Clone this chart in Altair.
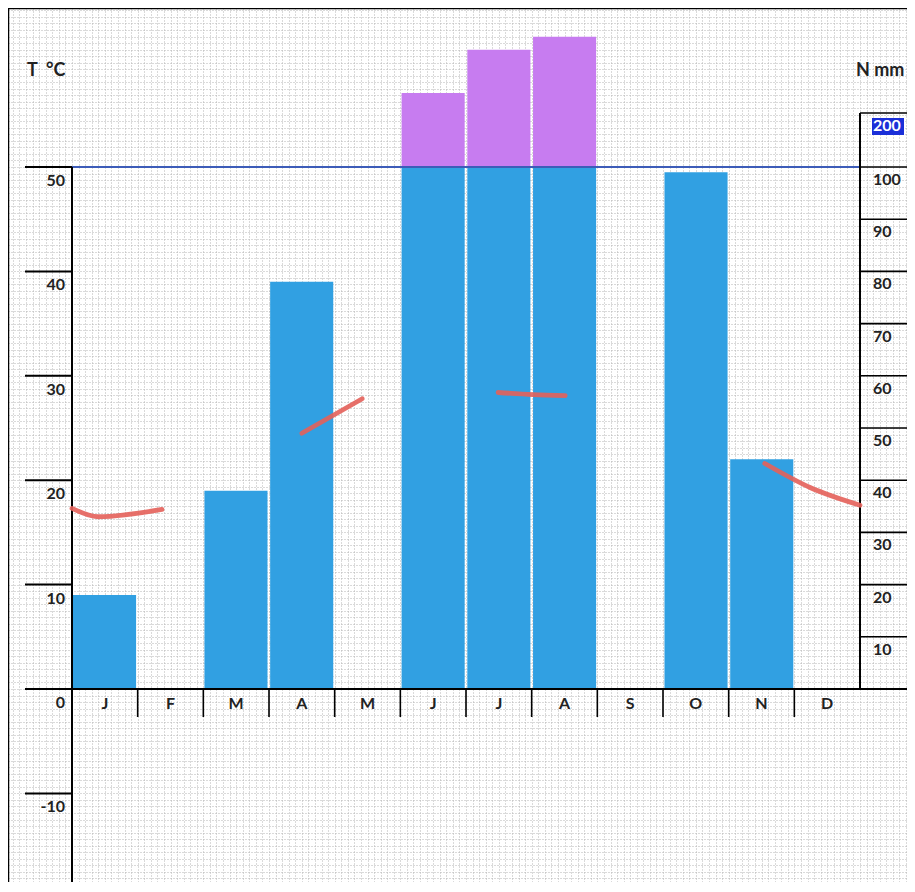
import altair as alt
import pandas as pd

# ---------------- data ----------------
months = ["J", "F", "M", "A", "M", "J", "J", "A", "S", "O", "N", "D"]
precip_mm = [18, 0, 38, 78, 0, 237, 317, 341, 0, 99, 44, 0]

# fragments of the temperature curve: month position, degrees C, fragment id
temp_pos = [0.0, 0.40, 1.37, 3.50, 4.42, 6.49, 7.02, 7.51, 10.55, 11.24, 12.0]
temp_c = [17.3, 16.5, 17.2, 24.5, 27.8, 28.4, 28.2, 28.1, 21.6, 19.3, 17.6]
temp_seg = [1, 1, 1, 2, 2, 3, 3, 3, 4, 4, 4]

temp_ticks = [50, 40, 30, 20, 10, 0, -10]
temp_tick_labels = ["50", "40", "30", "20", "10", "0", "-10"]
precip_ticks = [10, 20, 30, 40, 50, 60, 70, 80, 90, 100]
precip_tick_labels = ["10", "20", "30", "40", "50", "60", "70", "80", "90", "100"]
precip_top = [200]
precip_top_label = ["200"]
month_bounds = [1, 2, 3, 4, 5, 6, 7, 8, 9, 10, 11]
axis_titles = ["T\u00a0\u00a0°C", "N mm"]

# ---------------- layout ----------------
W, H = 899, 874
X0, X1 = 64, 852            # month axis span (pixels)
Y0, Y50, Y200 = 681, 159, 105

FONT = "Lato"
TXT = "#222222"
FS = 16

bars = pd.DataFrame({
    "idx": list(range(12)),
    "p": precip_mm,
})
bars["blue_top"] = bars["p"].clip(upper=100)
over = bars[bars["p"] > 100].copy()
over["base"] = 100

line_df = pd.DataFrame({"pos": temp_pos, "t": temp_c, "seg": temp_seg})
tt_df = pd.DataFrame({"t": temp_ticks, "lab": temp_tick_labels})
pt_df = pd.DataFrame({"p": precip_ticks, "lab": precip_tick_labels})
ptop_df = pd.DataFrame({"p": precip_top, "lab": precip_top_label})
mon_df = pd.DataFrame({"pos": [i + 0.5 for i in range(12)], "lab": months})
mb_df = pd.DataFrame({"pos": month_bounds})

t_scale = alt.Scale(domain=[0, 50], range=[Y0, Y50], zero=False, nice=False)
p_scale = alt.Scale(domain=[0, 100, 200], range=[Y0, Y50, Y200], zero=False, nice=False)
m_scale = alt.Scale(domain=[0, 12], range=[X0, X1], zero=False, nice=False)
b_scale = alt.Scale(domain=list(range(12)), range=[X0, X1], paddingInner=0.04, paddingOuter=0.015)

# ---------------- graph-paper grid ----------------
gx_vals = [round(4.9 + 6.567 * k, 2) for k in range(int((W - 4.9) / 6.567) + 1)]
gy_vals = [round(2.4 + 6.525 * k, 2) for k in range(int((H - 2.4) / 6.525) + 1)]
grid = alt.Chart(pd.DataFrame({"gx": [0], "gy": [0]})).mark_point(opacity=0).encode(
    x=alt.X("gx:Q", scale=alt.Scale(domain=[0, W], nice=False, zero=False),
            axis=alt.Axis(values=gx_vals, grid=True, gridColor="#b5b5b5", gridDash=[1, 2],
                          gridWidth=1, labels=False, ticks=False, domain=False, title=None)),
    y=alt.Y("gy:Q", scale=alt.Scale(domain=[0, H], reverse=True, nice=False, zero=False),
            axis=alt.Axis(values=gy_vals, grid=True, gridColor="#b5b5b5", gridDash=[1, 2],
                          gridWidth=1, labels=False, ticks=False, domain=False, title=None)),
)

# ---------------- precipitation bars ----------------
blue_bars = alt.Chart(bars).mark_bar(color="#31a0e2").encode(
    x=alt.X("idx:O", scale=b_scale, axis=None),
    y=alt.Y("blue_top:Q", scale=p_scale, axis=None),
    y2=alt.datum(0),
)
purple_bars = alt.Chart(over).mark_bar(color="#c77cf0").encode(
    x=alt.X("idx:O", scale=b_scale, axis=None),
    y=alt.Y("p:Q", scale=p_scale, axis=None),
    y2="base:Q",
)

# ---------------- axes drawn as rules ----------------
top_blue = alt.Chart(pd.DataFrame({"t": [50]})).mark_rule(color="#3d5cb8", strokeWidth=2).encode(
    y=alt.Y("t:Q", scale=t_scale, axis=None), x=alt.value(X0), x2=alt.value(X1))

left_ticks = alt.Chart(tt_df).mark_rule(color="black", strokeWidth=2).encode(
    y=alt.Y("t:Q", scale=t_scale, axis=None), x=alt.value(17), x2=alt.value(X0))

zero_line = alt.Chart(pd.DataFrame({"t": [0]})).mark_rule(color="black", strokeWidth=2).encode(
    y=alt.Y("t:Q", scale=t_scale, axis=None), x=alt.value(17), x2=alt.value(W))

left_axis = alt.Chart(pd.DataFrame({"t": [50]})).mark_rule(color="black", strokeWidth=2).encode(
    y=alt.Y("t:Q", scale=t_scale, axis=None), y2=alt.value(H), x=alt.value(X0))

right_axis = alt.Chart(pd.DataFrame({"p": [200]})).mark_rule(color="black", strokeWidth=2).encode(
    y=alt.Y("p:Q", scale=p_scale, axis=None), y2=alt.datum(0), x=alt.value(X1))

right_ticks = alt.Chart(pd.concat([pt_df, ptop_df])).mark_rule(color="black", strokeWidth=1.6).encode(
    y=alt.Y("p:Q", scale=p_scale, axis=None), x=alt.value(X1), x2=alt.value(W))

month_div = alt.Chart(mb_df).mark_rule(color="black", strokeWidth=1.6).encode(
    x=alt.X("pos:Q", scale=m_scale, axis=None),
    y=alt.value(Y0), y2=alt.value(Y0 + 28))

border = alt.Chart(pd.DataFrame({"a": [0]})).mark_rule(color="black", strokeWidth=2.5).encode(
    x=alt.value(0), y=alt.value(0), y2=alt.value(H))
border_top = alt.Chart(pd.DataFrame({"a": [0]})).mark_rule(color="black", strokeWidth=2.5).encode(
    x=alt.value(0), x2=alt.value(W), y=alt.value(0))

# ---------------- temperature curve ----------------
temp_line = alt.Chart(line_df).mark_line(color="#e4605a", strokeWidth=4.8, strokeCap="round",
                                         interpolate="monotone", opacity=0.9).encode(
    x=alt.X("pos:Q", scale=m_scale, axis=None),
    y=alt.Y("t:Q", scale=t_scale, axis=None),
    detail="seg:N",
)

# ---------------- texts ----------------
left_labels = alt.Chart(tt_df).mark_text(font=FONT, fontWeight="bold", fontSize=FS, color=TXT,
                                          align="right", baseline="middle", dy=14).encode(
    y=alt.Y("t:Q", scale=t_scale, axis=None), x=alt.value(57), text="lab:N")

right_labels = alt.Chart(pt_df).mark_text(font=FONT, fontWeight="bold", fontSize=FS, color=TXT,
                                           align="left", baseline="middle", dy=13).encode(
    y=alt.Y("p:Q", scale=p_scale, axis=None), x=alt.value(X1 + 13), text="lab:N")

hl_box = alt.Chart(ptop_df).mark_rect(color="#1b2fd8").encode(
    y=alt.value(Y200 + 5), y2=alt.value(Y200 + 22),
    x=alt.value(X1 + 12), x2=alt.value(X1 + 44))
top_label = alt.Chart(ptop_df).mark_text(font=FONT, fontWeight="bold", fontSize=FS, color="white",
                                          align="left", baseline="middle", dy=13).encode(
    y=alt.Y("p:Q", scale=p_scale, axis=None), x=alt.value(X1 + 13), text="lab:N")

month_labels = alt.Chart(mon_df).mark_text(font=FONT, fontWeight="bold", fontSize=FS, color=TXT,
                                            baseline="middle").encode(
    x=alt.X("pos:Q", scale=m_scale, axis=None), y=alt.value(Y0 + 15), text="lab:N")

titles = alt.Chart(pd.DataFrame({"lab": axis_titles, "xx": [19, 848]})).mark_text(
    font=FONT, fontWeight="bold", fontSize=18, color=TXT, align="left", baseline="middle").encode(
    x=alt.X("xx:Q", scale=alt.Scale(domain=[0, W], range=[0, W], nice=False, zero=False), axis=None),
    y=alt.value(63), text="lab:N")

chart = alt.layer(
    grid, blue_bars, purple_bars, top_blue, left_ticks, zero_line, left_axis, right_axis,
    right_ticks, month_div, border, border_top, temp_line, left_labels, right_labels,
    hl_box, top_label, month_labels, titles,
).resolve_scale(x="independent", y="independent").properties(
    width=W, height=H, padding=0, autosize="none", background="white"
).configure_view(strokeWidth=0)

chart.save("out.html", embed_options={"renderer": "svg", "actions": False})
